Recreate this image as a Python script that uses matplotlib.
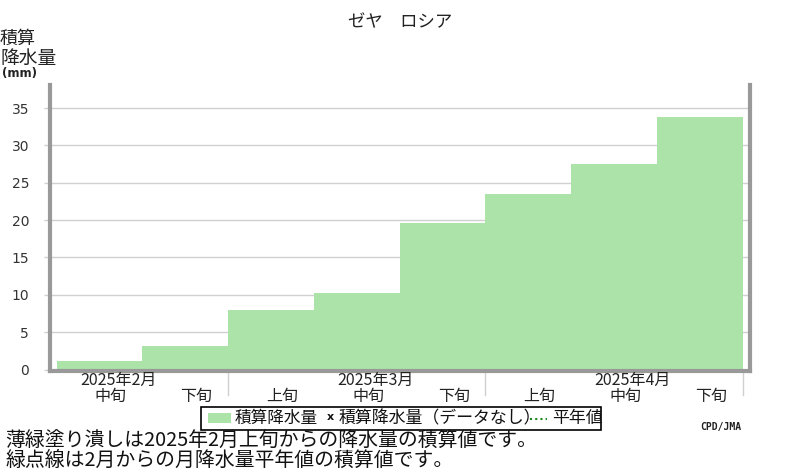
import matplotlib
matplotlib.use("Agg")
import matplotlib.pyplot as plt
from matplotlib.patches import Rectangle
from matplotlib.lines import Line2D

plt.rcParams['font.family'] = ['Noto Sans CJK JP', 'DejaVu Sans']

title = "ゼヤ　ロシア"
dekads = ["中旬", "下旬", "上旬", "中旬", "下旬", "上旬", "中旬", "下旬"]
months = ["2025年2月", "2025年3月", "2025年4月"]
month_centre_idx = [0, 3, 6]
month_edges = [1.5, 4.5, 7.5]
accum = [1.1, 3.1, 8.0, 10.3, 19.6, 23.5, 27.5, 33.8]
yticks = [0, 5, 10, 15, 20, 25, 30, 35]

GREEN = "#abe3a9"
SPINE = "#999999"

fig = plt.figure(figsize=(8, 4.7), dpi=100)
ax = fig.add_axes([50/800, 1-371/470, 700/800, (371-85)/470])

x = list(range(len(accum)))
ax.bar(x, accum, width=1.0, color=GREEN, align='center', zorder=2, linewidth=0)
ax.set_xlim(-0.578, 7.585)
ax.set_ylim(-0.2, 38.1)

ax.set_yticks(yticks)
ax.set_yticklabels([str(v) for v in yticks], fontsize=10, color="#333333",
                   family=['DejaVu Sans'])
ax.yaxis.grid(True, color="#d0d0d0", linewidth=1, zorder=0)
ax.tick_params(axis='y', length=4, color="#d0d0d0", pad=11, width=1)

ax.set_xticks([])
ax.spines['top'].set_visible(False)
for s in ['left', 'right', 'bottom']:
    ax.spines[s].set_color(SPINE)
    ax.spines[s].set_linewidth(3)

# month separators below axis
for e in month_edges:
    ax.plot([e, e], [0, -3.4], color="#d0d0d0", lw=1, clip_on=False, zorder=1)

# dekad and month labels
tr = ax.get_xaxis_transform()
for i, d in enumerate(dekads):
    ax.text(i + 0.13, -0.089, d, transform=tr, ha='center', va='center',
            fontsize=11.5, color="#222222")
for ci, m in zip(month_centre_idx, months):
    ax.text(ci + 0.22, -0.034, m, transform=tr, ha='center', va='center',
            fontsize=11.5, color="#222222")

# title and y label
fig.text(0.5, 1-22/470, title, ha='center', va='center', fontsize=12.5, color="#222222")
fig.text(0.0, 1-39/470, "積算", ha='left', va='center', fontsize=13, color="#222222")
fig.text(0.0, 1-58/470, "降水量", ha='left', va='center', fontsize=13.5, color="#222222")
fig.text(0.002, 1-74/470, "(mm)", ha='left', va='center', fontsize=8.5,
         fontweight='bold', color="#222222", family=['DejaVu Sans'])

# legend
fig.patches.append(Rectangle((201/800, 1-430/470), 400/800, 23/470, transform=fig.transFigure,
                             facecolor='white', edgecolor='black', lw=1.2))
fig.patches.append(Rectangle((208/800, 1-423/470), 23/800, 10/470, transform=fig.transFigure,
                             facecolor=GREEN, edgecolor='none'))
fig.text(235/800, 1-418/470, "積算降水量", ha='left', va='center', fontsize=12, color="#111111")
fig.text(327/800, 1-417/470, "x", ha='left', va='center', fontsize=8, fontweight='bold',
         color="#111111", family=['DejaVu Sans'])
fig.text(339/800, 1-418/470, "積算降水量（データなし）", ha='left', va='center', fontsize=12.2, color="#111111")
fig.lines.append(Line2D([530/800, 547/800], [1-419/470, 1-419/470], transform=fig.transFigure,
                        color="#1a8a1a", lw=1.5, linestyle=(0, (1, 1.5))))
fig.text(552/800, 1-418/470, "平年値", ha='left', va='center', fontsize=12.2, color="#111111")

fig.text(700/800, 1-427/470, "CPD/JMA", ha='left', va='center', fontsize=7, fontweight='bold',
         color="#222222", family=['DejaVu Sans Mono'])

fig.text(5/800, 1-441/470, "薄緑塗り潰しは2025年2月上旬からの降水量の積算値です。",
         ha='left', va='center', fontsize=14.3, color="#111111")
fig.text(5/800, 1-460/470, "緑点線は2月からの月降水量平年値の積算値です。",
         ha='left', va='center', fontsize=14.3, color="#111111")

fig.savefig("out.png", dpi=100)
